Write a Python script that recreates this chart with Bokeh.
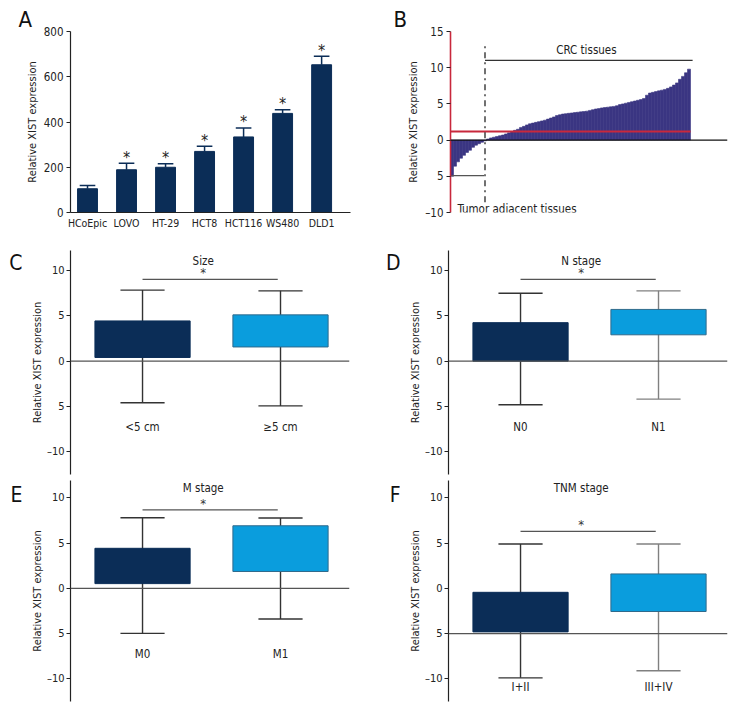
from bokeh.plotting import figure
from bokeh.layouts import column, row
from bokeh.models import Label, Range1d, FixedTicker, Span, Title
from bokeh.core.properties import value
from bokeh.embed import file_html
from bokeh.resources import INLINE

FONT = "DejaVu Sans Condensed, Roboto"
DARK = "#0b2d57"
LIGHT = "#0a9ddd"
LIGHT_EDGE = "#2f6a8c"
WF = "#3a3582"
RED = "#c8283c"
AXIS = "#222222"
GRAYLINE = "#555555"

# ---------------- Panel A data ----------------
cell_lines = ["HCoEpic", "LOVO", "HT-29", "HCT8", "HCT116", "WS480", "DLD1"]
cell_means = [105, 189, 200, 270, 334, 438, 653]
cell_err_top = [119, 218, 215, 293, 374, 454, 691]
cell_sig = ["", "*", "*", "*", "*", "*", "*"]
a_ticks = [0, 200, 400, 600, 800]

# ---------------- Panel B data (sorted waterfall) ----------------
wf_values = [-5.0, -3.6, -3.0, -2.5, -2.1, -1.7, -1.4, -1.0, -0.7, -0.5, -0.3, -0.1,
             0.15, 0.3, 0.4, 0.5, 0.6, 0.7, 0.85, 1.0, 1.15, 1.35, 1.5, 1.75,
             1.9, 2.1, 2.25, 2.35, 2.45, 2.55, 2.65, 2.75, 2.9, 3.05, 3.2, 3.4,
             3.5, 3.6, 3.65, 3.7, 3.75, 3.8, 3.85, 3.9, 3.95, 4.0, 4.1, 4.2,
             4.3, 4.35, 4.45, 4.5, 4.55, 4.6, 4.65, 4.75, 4.9, 5.0, 5.1, 5.2,
             5.3, 5.4, 5.5, 5.6, 5.75, 6.2, 6.5, 6.6, 6.7, 6.8, 6.9, 7.0,
             7.15, 7.35, 7.6, 7.9, 8.4, 8.8, 9.3, 9.8]
n_adjacent = 12
wf_ref_line = 1.2
crc_bracket_y = 11.0
adj_bracket_y = -4.9
b_ticks = [-10, -5, 0, 5, 10, 15]

# ---------------- Box panels data ----------------
size_groups = ["<5 cm", "\u22655 cm"]
size_q1 = [0.41, 1.57]
size_q3 = [4.44, 5.11]
size_lo = [-4.59, -4.93]
size_hi = [7.84, 7.76]

n_groups = ["N0", "N1"]
n_q1 = [0.0, 2.91]
n_q3 = [4.25, 5.71]
n_lo = [-4.81, -4.18]
n_hi = [7.5, 7.76]

m_groups = ["M0", "M1"]
m_q1 = [0.52, 1.86]
m_q3 = [4.42, 6.91]
m_lo = [-4.98, -3.38]
m_hi = [7.8, 7.77]

tnm_groups = ["I+II", "III+IV"]
tnm_q1 = [-4.81, -2.56]
tnm_q3 = [-0.44, 1.59]
tnm_lo = [-9.89, -9.11]
tnm_hi = [4.89, 4.89]

box_ticks = [-10, -5, 0, 5, 10]
tick_overrides = {-5: "5", -10: "\u201310"}


def style_yaxis(p, ticks, overrides=None, label_standoff=2, tick_standoff=3, tick_size="11.5px"):
    ax = p.yaxis[0]
    ax.ticker = FixedTicker(ticks=ticks)
    if overrides:
        ax.major_label_overrides = overrides
    ax.axis_label = "Relative XIST expression"
    ax.axis_label_text_font = FONT
    ax.axis_label_text_font_size = "11px"
    ax.axis_label_text_font_style = "normal"
    ax.axis_label_text_color = AXIS
    ax.axis_label_standoff = label_standoff
    ax.major_label_text_font = FONT
    ax.major_label_text_font_size = tick_size
    ax.major_label_text_color = AXIS
    ax.major_label_standoff = tick_standoff
    ax.major_tick_out = 4
    ax.major_tick_in = 0
    ax.minor_tick_out = 0
    ax.minor_tick_in = 0
    ax.axis_line_color = AXIS
    ax.axis_line_width = 1.2
    ax.major_tick_line_color = AXIS
    ax.major_tick_line_width = 1.2


def base_fig(w, h, xr, yr, borders, x_axis=True, y_axis=True):
    left, right, top, bottom = borders
    p = figure(width=w, height=h, x_range=xr, y_range=yr,
               output_backend="svg", toolbar_location=None,
               x_axis_location="below" if x_axis else None,
               y_axis_location="left" if y_axis else None,
               min_border_left=left, min_border_right=right,
               min_border_top=top, min_border_bottom=bottom)
    p.grid.visible = False
    p.outline_line_color = None
    p.background_fill_color = "white"
    p.border_fill_color = "white"
    return p


def mklabel(x, y, txt, size, align="center", baseline="middle", color=AXIS):
    return Label(x=x, y=y, text=txt, text_font=FONT, text_font_size=size,
                 text_color=color, text_align=align, text_baseline=baseline)


def title_letter(p, txt, offset):
    p.add_layout(Title(text=txt, align="left", offset=offset, standoff=0,
                       text_font=FONT, text_font_size="22px", text_font_style="normal",
                       text_color="#111111"), "above")


def letter_fig(txt, w, h, top_px):
    p = base_fig(w, h, Range1d(0, w), Range1d(0, h), (0, 0, 0, 0), x_axis=False, y_axis=False)
    p.add_layout(mklabel(w, h - top_px, txt, "21px", "right", "top", "#111111"))
    return p


# ---------------- Panel A ----------------
ax_x = list(range(1, len(cell_lines) + 1))
pA = base_fig(378, 250, Range1d(0.564, 7.74), Range1d(0, 800), (70, 28, 31, 38))
pA.vbar(x=ax_x, top=cell_means, bottom=0, width=0.51, fill_color=DARK, line_color=DARK)
pA.segment(x0=ax_x, y0=cell_means, x1=ax_x, y1=cell_err_top, line_color=DARK, line_width=1.5)
pA.segment(x0=[v - 0.2 for v in ax_x], y0=cell_err_top, x1=[v + 0.2 for v in ax_x],
           y1=cell_err_top, line_color=DARK, line_width=1.5)
pA.text(x=ax_x, y=[e + 27 for e in cell_err_top], text=cell_sig, text_font=value(FONT),
        text_font_size="16px", text_align="center", text_baseline="middle", text_color="#222222")
style_yaxis(pA, a_ticks)
xa = pA.xaxis[0]
xa.ticker = FixedTicker(ticks=ax_x)
xa.major_label_overrides = {i: n for i, n in zip(ax_x, cell_lines)}
xa.major_label_text_font = FONT
xa.major_label_text_font_size = "10.5px"
xa.major_label_text_color = AXIS
xa.major_label_standoff = 4
xa.major_tick_out = 0
xa.major_tick_in = 0
xa.minor_tick_out = 0
xa.minor_tick_in = 0
xa.axis_line_color = AXIS
xa.axis_line_width = 1.2
title_letter(pA, "A", -52)

# ---------------- Panel B ----------------
wf_x = [i + 0.5 for i in range(len(wf_values))]
pB = base_fig(378, 250, Range1d(0, 92.33), Range1d(-10, 15), (72, 29, 31, 38), x_axis=False)
pB.vbar(x=wf_x, top=wf_values, bottom=0, width=1.0, fill_color=WF, line_color=WF, line_width=0.6)
pB.add_layout(Span(location=0, dimension="width", line_color="#111111", line_width=1.3))
n_all = len(wf_values)
pB.segment(x0=[0], y0=[wf_ref_line], x1=[n_all], y1=[wf_ref_line], line_color=RED, line_width=2)
pB.segment(x0=[n_adjacent - 0.5], y0=[-8.6], x1=[n_adjacent - 0.5], y1=[13.5],
           line_color="#111111", line_width=1.2, line_dash="dashdot")
pB.segment(x0=[n_adjacent - 0.5], y0=[crc_bracket_y], x1=[n_all + 0.7], y1=[crc_bracket_y],
           line_color="#333333", line_width=1.2)
pB.segment(x0=[0.3], y0=[adj_bracket_y], x1=[n_adjacent - 0.8], y1=[adj_bracket_y],
           line_color="#555555", line_width=1.2)
pB.add_layout(mklabel(45.3, 12.5, "CRC tissues", "11.5px"))
pB.add_layout(mklabel(2.3, -9.5, "Tumor adjacent tissues", "11.5px", "left"))
style_yaxis(pB, b_ticks, tick_overrides)
pB.yaxis[0].axis_line_color = RED
pB.yaxis[0].axis_line_width = 1.6
title_letter(pB, "B", -57)


# ---------------- Box panels ----------------
def box_panel(h, y_end, bottom_border, groups, q1, q3, lo, hi, title, sig_y, base_y,
              whisk_cols, label_y):
    p = base_fig(356, h, Range1d(0.478, 2.50), Range1d(-12.5, y_end), (48, 29, 0, bottom_border),
                 x_axis=False)
    xs = [1, 2]
    p.add_layout(Span(location=base_y, dimension="width", line_color=GRAYLINE, line_width=1.3))
    p.segment(x0=xs, y0=lo, x1=xs, y1=hi, line_color=whisk_cols, line_width=1.4)
    p.segment(x0=[x - 0.16 for x in xs], y0=lo, x1=[x + 0.16 for x in xs], y1=lo,
              line_color=whisk_cols, line_width=1.4)
    p.segment(x0=[x - 0.16 for x in xs], y0=hi, x1=[x + 0.16 for x in xs], y1=hi,
              line_color=whisk_cols, line_width=1.4)
    p.quad(left=[x - 0.345 for x in xs], right=[x + 0.345 for x in xs], bottom=q1, top=q3,
           fill_color=[DARK, LIGHT], line_color=[DARK, LIGHT_EDGE], line_width=1)
    p.segment(x0=[1.0], y0=[sig_y], x1=[1.98], y1=[sig_y], line_color=GRAYLINE, line_width=1.2)
    p.add_layout(mklabel(1.44, sig_y + 0.75, "*", "13px", color="#333333"))
    p.add_layout(mklabel(1.44, 11.1, title, "11.5px"))
    p.text(x=xs, y=[label_y, label_y], text=groups, text_font=value(FONT),
           text_font_size="11.5px", text_align="center", text_baseline="middle",
           text_color=AXIS)
    style_yaxis(p, box_ticks, tick_overrides, label_standoff=0, tick_standoff=2, tick_size="11px")
    return p


pC = box_panel(230, 12.21, 6, size_groups, size_q1, size_q3, size_lo, size_hi,
               "Size", 9.03, 0, ["#333333", "#333333"], -7.3)
pD = box_panel(230, 12.21, 6, n_groups, n_q1, n_q3, n_lo, n_hi,
               "N stage", 9.03, 0, ["#333333", "#808080"], -7.3)
pE = box_panel(240, 11.91, 19, m_groups, m_q1, m_q3, m_lo, m_hi,
               "M stage", 8.66, 0, ["#333333", "#333333"], -7.3)
pF = box_panel(240, 11.91, 19, tnm_groups, tnm_q1, tnm_q3, tnm_lo, tnm_hi,
               "TNM stage", 6.3, -5, ["#333333", "#808080"], -10.85)

lC = letter_fig("C", 22, 230, 0)
lD = letter_fig("D", 22, 230, 0)
lE = letter_fig("E", 22, 240, 3)
lF = letter_fig("F", 22, 240, 3)

layout = column(row(pA, pB), row(lC, pC, lD, pD), row(lE, pE, lF, pF))
open("out.html", "w").write(file_html(layout, INLINE))
